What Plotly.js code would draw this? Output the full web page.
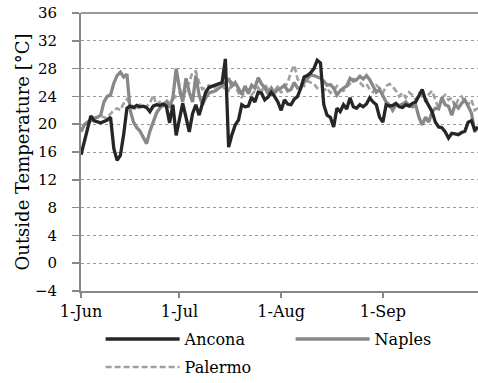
<!DOCTYPE html>
<html>
<head>
<meta charset="utf-8">
<script src="https://cdn.plot.ly/plotly-3.0.1.min.js"></script>
<style>html,body{margin:0;padding:0;background:#fff;}#chart{width:478px;height:383px;}</style>
</head>
<body>
<div id="chart"></div>
<script>
// Daily outside temperature, 1 June .. 30 September
const startDate = '2013-06-01';
const seriesNames = ['Ancona', 'Naples', 'Palermo'];
const tickDates = ['2013-06-01', '2013-07-01', '2013-08-01', '2013-09-01'];
const tickLabels = ['1-Jun', '1-Jul', '1-Aug', '1-Sep'];
const yTicks = [-4, 0, 4, 8, 12, 16, 20, 24, 28, 32, 36];

const ancona = [
  15.6, 17.5, 19.5, 21.2, 20.5, 20.3, 20.2, 20.4, 20.6, 21.0,
  16.5, 14.8, 15.5, 18.5, 22.3, 22.6, 22.4, 22.7, 22.5, 22.6,
  22.4, 21.8, 22.6, 22.8, 22.7, 22.9, 22.6, 20.2, 22.8, 18.4,
  20.5, 23.0, 21.0, 18.9, 21.5, 22.8, 21.3, 23.0, 24.6, 25.3,
  25.5, 25.7, 25.9, 26.0, 29.4, 16.7, 18.5, 19.9, 20.6, 22.8,
  22.5, 22.6, 23.9, 23.2, 24.6, 24.5, 23.5, 23.9, 24.6, 24.0,
  23.2, 22.0, 23.5, 22.9, 22.8, 23.6, 24.0, 25.2, 26.8, 27.0,
  27.4, 28.0, 29.2, 28.8, 22.8, 21.3, 21.0, 19.6, 22.3, 21.8,
  22.8, 22.2, 23.8, 22.5, 22.3, 22.8, 22.5, 22.9, 23.8, 23.2,
  22.8, 21.0, 20.3, 22.8, 22.6, 22.7, 23.0, 22.5, 22.4, 22.8,
  22.6, 23.0, 23.2, 24.0, 25.0, 23.5, 22.6, 21.8, 20.3, 19.6,
  19.5, 18.9, 18.0, 18.7, 18.6, 18.5, 18.8, 19.0, 20.3, 20.5,
  19.2, 19.6
];
const naples = [
  18.9, 19.9, 20.3, 20.5, 20.9, 21.0, 21.3, 23.2, 24.0, 24.2,
  25.9, 27.0, 27.5, 26.8, 27.2, 22.0, 20.3, 19.5, 19.0, 18.2,
  17.2, 19.0, 20.3, 21.6, 22.3, 22.8, 23.2, 22.4, 23.8, 28.0,
  25.2, 23.2, 26.6, 24.6, 23.2, 27.0, 24.2, 22.8, 23.8, 24.5,
  24.6, 24.8, 25.2, 25.6, 25.9, 26.6, 25.5, 26.0, 25.2, 24.3,
  25.5, 24.4, 25.6, 25.2, 26.7, 25.8, 25.3, 24.4, 25.2, 24.5,
  25.0, 25.2, 25.6, 24.8, 25.0, 26.0, 25.2, 25.3, 26.0, 26.5,
  27.1, 27.0, 26.8, 26.6, 26.2, 25.6, 25.7, 25.2, 24.2, 24.8,
  25.2, 25.5, 26.6, 26.2, 26.4, 26.9, 26.5, 27.0, 26.4, 25.6,
  24.6, 25.0, 24.2, 23.2, 22.8, 22.0, 22.8, 22.7, 22.9, 23.2,
  22.7, 22.5, 22.8, 21.0, 19.9, 21.0, 20.3, 21.8, 22.3, 22.2,
  23.8, 22.8, 22.6, 21.3, 22.8, 22.3, 23.0, 23.5, 22.6, 21.6,
  18.9, 19.5
];
const palermo = [
  19.0, 19.8, 20.3, 20.5, 20.8, 21.0, 21.2, 21.0, 20.8, 21.5,
  22.0, 22.3, 22.0, 23.0, 23.6, 23.0, 22.5, 22.0, 22.8, 22.4,
  22.6, 23.0, 24.2, 22.8, 23.2, 22.5, 23.5, 23.0, 23.6, 24.0,
  24.5, 23.8, 25.0, 26.0, 27.5, 27.6, 26.0, 25.0, 25.3, 25.6,
  25.0, 25.4, 25.8, 25.5, 25.0, 24.8, 26.0, 25.5, 24.5, 23.8,
  24.8, 25.0, 24.2, 24.8, 25.3, 24.6, 25.8, 25.0, 24.2, 24.8,
  25.5, 24.5, 25.2, 26.0, 27.5, 28.5, 26.5, 26.0, 25.5, 26.2,
  26.0, 25.8, 25.2, 25.0, 24.8, 25.2, 24.5, 24.8, 25.5, 25.0,
  24.8, 25.4, 25.8, 26.5, 26.3, 26.0, 25.5, 25.8, 25.0, 24.6,
  25.6, 25.2, 24.5, 25.5, 25.8, 25.4, 24.8, 24.0, 24.5, 23.8,
  24.6, 24.2, 23.5, 24.4, 24.0, 23.2, 24.3, 24.8, 23.5, 22.2,
  23.8, 24.2, 23.5, 23.8, 22.5, 23.6, 24.0, 23.2, 22.8, 23.5,
  22.0, 22.3
];

function buildDates(start, n) {
  const out = [];
  const d0 = new Date(start + 'T00:00:00Z');
  for (let i = 0; i < n; i++) {
    const d = new Date(d0.getTime() + i * 86400000);
    out.push(d.toISOString().slice(0, 10));
  }
  return out;
}
const dates = buildDates(startDate, ancona.length);

const FONT = 'DejaVu Serif';

const traces = [
  {x: dates, y: palermo, name: seriesNames[2], type: 'scatter', mode: 'lines',
   line: {color: '#a0a0a0', width: 2.6, dash: '6px,3px'}, legend: 'legend2'},
  {x: dates, y: naples, name: seriesNames[1], type: 'scatter', mode: 'lines',
   line: {color: '#888888', width: 3.3}, legend: 'legend', legendrank: 2},
  {x: dates, y: ancona, name: seriesNames[0], type: 'scatter', mode: 'lines',
   line: {color: '#262626', width: 3.3}, legend: 'legend', legendrank: 1}
];

const legendCommon = {
  orientation: 'h', xanchor: 'left', yanchor: 'top', xref: 'container', yref: 'container',
  entrywidth: 101, entrywidthmode: 'pixels', itemwidth: 74,
  font: {family: FONT, size: 16, color: '#000'}, traceorder: 'normal',
  bgcolor: 'rgba(0,0,0,0)', borderwidth: 0
};

const layout = {
  width: 478, height: 383,
  margin: {l: 81, r: 0, t: 13, b: 92, pad: 0},
  paper_bgcolor: '#ffffff', plot_bgcolor: '#ffffff',
  font: {family: FONT, size: 16, color: '#000'},
  showlegend: true,
  legend: Object.assign({}, legendCommon, {x: 0.2105, y: 0.159}),
  legend2: Object.assign({}, legendCommon, {x: 0.2105, y: 0.086}),
  xaxis: {
    type: 'date', range: ['2013-06-01', '2013-09-30'],
    tickvals: tickDates, ticktext: tickLabels,
    ticks: 'outside', ticklen: 5, tickwidth: 2, tickcolor: '#888',
    showline: true, linecolor: '#888', linewidth: 2,
    showgrid: false, zeroline: false,
    tickfont: {family: FONT, size: 16, color: '#000'},
    ticklabelstandoff: 0
  },
  yaxis: {
    range: [-4, 36], tickvals: yTicks,
    ticks: 'outside', ticklen: 7, tickwidth: 1.5, tickcolor: '#888',
    showline: true, linecolor: '#888', linewidth: 2,
    showgrid: true, gridcolor: '#999', griddash: 'dot', gridwidth: 1,
    zeroline: false,
    tickfont: {family: FONT, size: 15, color: '#000'},
    ticklabelstandoff: 12,
    title: {text: 'Outside Temperature [°C]', font: {family: FONT, size: 18, color: '#000'}, standoff: 1}
  },
  shapes: [
    {type: 'line', xref: 'paper', yref: 'paper', x0: 0, x1: 1, y0: 1, y1: 1,
     line: {color: '#999', width: 2}}
  ]
};

Plotly.newPlot('chart', traces, layout, {displayModeBar: false, staticPlot: true});
</script>
</body>
</html>
